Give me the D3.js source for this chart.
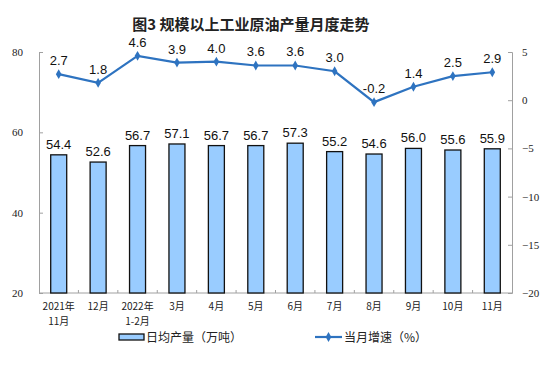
<!DOCTYPE html>
<html><head><meta charset="utf-8">
<script src="https://cdn.jsdelivr.net/npm/d3@7"></script>
<style>body{margin:0;background:#fff}svg{display:block}</style>
</head><body>
<svg id="c" width="554" height="369"></svg>
<script>
const categories = [["2021年","11月"],["12月"],["2022年","1-2月"],["3月"],["4月"],["5月"],["6月"],["7月"],["8月"],["9月"],["10月"],["11月"]];
const output = [54.4,52.6,56.7,57.1,56.7,56.7,57.3,55.2,54.6,56.0,55.6,55.9];
const growth = [2.7,1.8,4.6,3.9,4.0,3.6,3.6,3.0,-0.2,1.4,2.5,2.9];
const leftTicks = [20,40,60,80];
const rightTicks = [-20,-15,-10,-5,0,5];
const title = "图3  规模以上工业原油产量月度走势";
const legendBar = "日均产量（万吨）";
const legendLine = "当月增速（%）";

const svg = d3.select("#c");
const L = 39, R = 512, T = 52, B = 293;
const x = d3.scaleBand().domain(d3.range(categories.length)).range([L, R]);
const yL = d3.scaleLinear().domain([20, 80]).range([B, T]);
const yR = d3.scaleLinear().domain([-20, 5]).range([B, T]);
const axisColor = "#a0a0a0";
const cjk = "'Noto Sans CJK SC', sans-serif";

svg.append("text").attr("x", 251).attr("y", 30).attr("text-anchor", "middle")
  .attr("font-family", cjk).attr("font-size", 15).attr("font-weight", "bold").attr("fill", "#222").text(title);

// left axis
const gl = svg.append("g").attr("transform", `translate(${L},0)`)
  .call(d3.axisRight(yL).tickValues(leftTicks).tickSize(4).tickFormat(d3.format("d")));
gl.select(".domain").attr("stroke", axisColor);
gl.selectAll(".tick line").attr("stroke", axisColor);
gl.selectAll(".tick text").attr("x", -16).attr("text-anchor", "end")
  .attr("font-family", "'Liberation Serif', serif").attr("font-size", 11).attr("fill", "#222");

// right axis
const gr = svg.append("g").attr("transform", `translate(${R},0)`)
  .call(d3.axisLeft(yR).tickValues(rightTicks).tickSize(4).tickFormat(d3.format("d")));
gr.select(".domain").attr("stroke", axisColor);
gr.selectAll(".tick line").attr("stroke", axisColor);
gr.selectAll(".tick text").attr("x", 10).attr("text-anchor", "start")
  .attr("font-family", "'Liberation Serif', serif").attr("font-size", 11).attr("fill", "#222");

// x axis
const gx = svg.append("g").attr("transform", `translate(0,${B})`);
gx.append("line").attr("x1", L).attr("x2", R).attr("stroke", axisColor);
gx.selectAll("line.t").data(d3.range(1, categories.length)).join("line")
  .attr("class","t").attr("x1", i => x(i)).attr("x2", i => x(i)).attr("y1", 0).attr("y2", -3).attr("stroke", axisColor);

// bars
const bw = 16;
svg.append("g").selectAll("rect").data(output).join("rect")
  .attr("x", (d, i) => x(i) + x.bandwidth()/2 - bw/2)
  .attr("y", d => yL(d)).attr("width", bw).attr("height", d => B - yL(d))
  .attr("fill", "#99ccff").attr("stroke", "#111").attr("stroke-width", 1.3);

svg.append("g").selectAll("text").data(output).join("text")
  .attr("x", (d, i) => x(i) + x.bandwidth()/2).attr("y", d => yL(d) - 6)
  .attr("text-anchor", "middle").attr("font-family", "'Liberation Sans', Arial, sans-serif")
  .attr("font-size", 13).attr("fill", "#111").text(d => d.toFixed(1));

// line
const lineColor = "#2e73c0";
const line = d3.line().x((d, i) => x(i) + x.bandwidth()/2).y(d => yR(d));
svg.append("path").datum(growth).attr("d", line).attr("fill", "none")
  .attr("stroke", lineColor).attr("stroke-width", 2.2);
const diamond = d3.symbol().type(d3.symbolDiamond).size(28);
svg.append("g").selectAll("path").data(growth).join("path")
  .attr("transform", (d, i) => `translate(${x(i) + x.bandwidth()/2},${yR(d)})`)
  .attr("d", diamond).attr("fill", lineColor);
svg.append("g").selectAll("text").data(growth).join("text")
  .attr("x", (d, i) => x(i) + x.bandwidth()/2).attr("y", d => yR(d) - 9)
  .attr("text-anchor", "middle").attr("font-family", "'Liberation Sans', Arial, sans-serif")
  .attr("font-size", 13).attr("fill", "#111").text(d => d.toFixed(1));

// category labels
const cg = svg.append("g");
categories.forEach((c, i) => {
  c.forEach((s, j) => {
    cg.append("text").attr("x", x(i) + x.bandwidth()/2).attr("y", 310 + j * 15)
      .attr("text-anchor", "middle").attr("font-family", cjk).attr("font-size", 10)
      .attr("fill", "#222").text(s);
  });
});

// legend
const lg = svg.append("g");
lg.append("rect").attr("x", 119).attr("y", 334).attr("width", 25).attr("height", 6)
  .attr("fill", "#99ccff").attr("stroke", "#111").attr("stroke-width", 1.3);
lg.append("text").attr("x", 146).attr("y", 342).attr("font-family", cjk).attr("font-size", 12)
  .attr("fill", "#222").text(legendBar);
lg.append("line").attr("x1", 315).attr("x2", 342).attr("y1", 337).attr("y2", 337)
  .attr("stroke", lineColor).attr("stroke-width", 2.2);
lg.append("path").attr("transform", "translate(328.5,337)").attr("d", diamond).attr("fill", lineColor);
lg.append("text").attr("x", 344).attr("y", 342).attr("font-family", cjk).attr("font-size", 12)
  .attr("fill", "#222").text(legendLine);
</script>
</body></html>
